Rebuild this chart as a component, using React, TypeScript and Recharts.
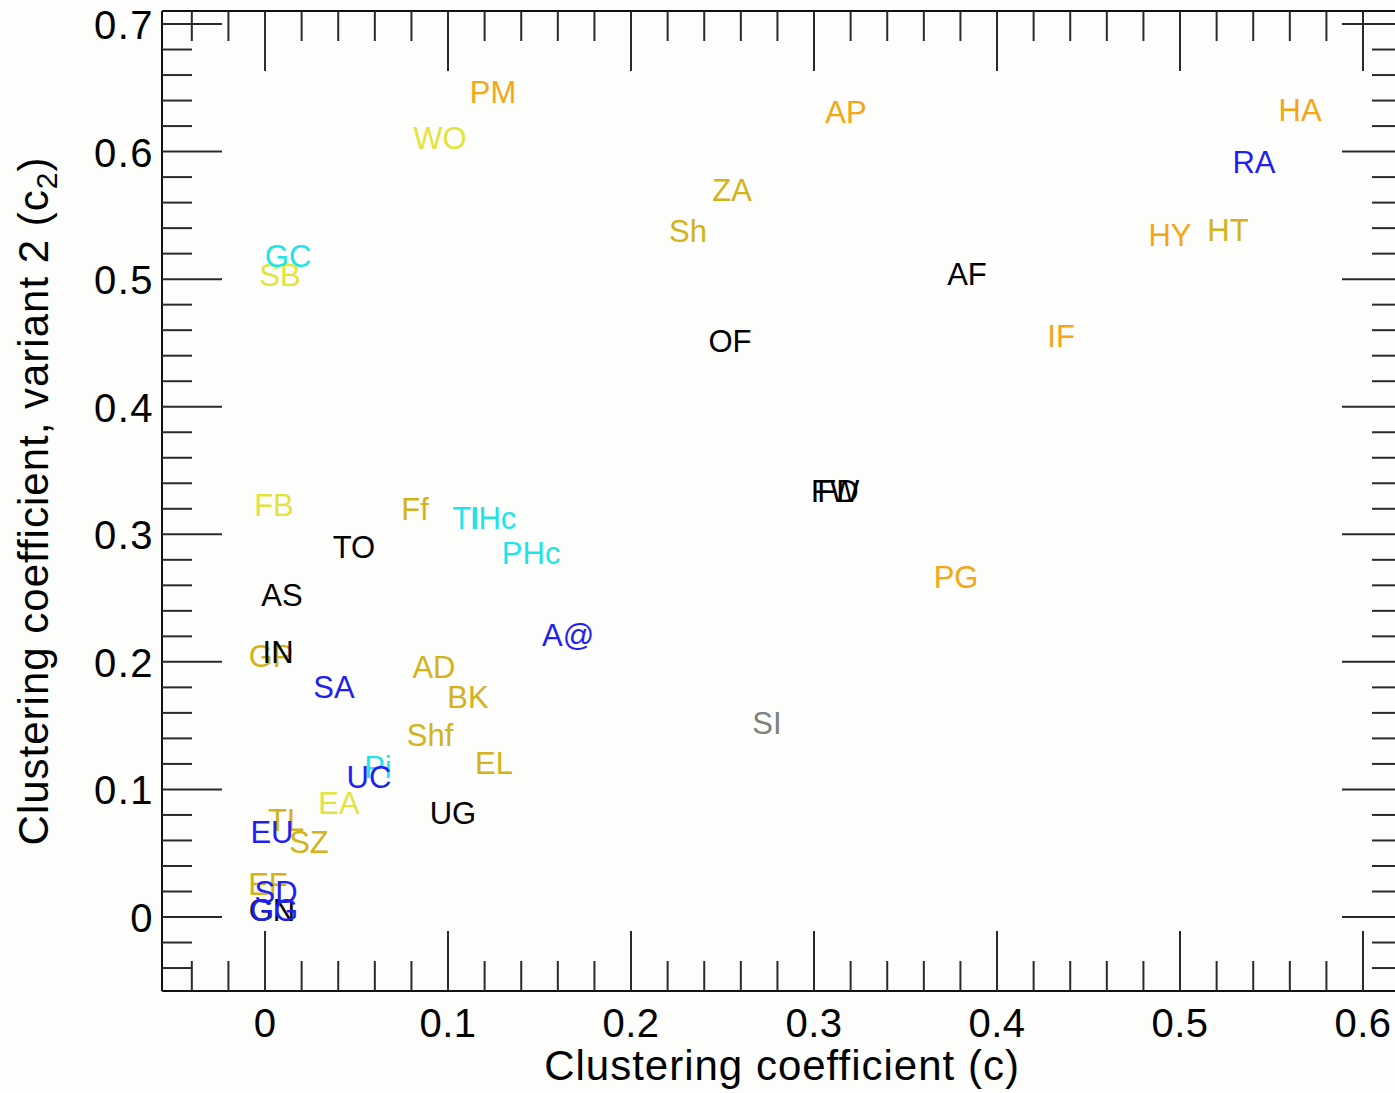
import React from "react";
import { ScatterChart, Scatter, XAxis, YAxis, Label } from "recharts";

// network labels, clustering coefficient c and variant 2 (c2), colour group
const labels = [
  "PM", "AP", "HA", "HY", "IF", "PG",
  "ZA", "Sh", "HT", "Ff", "AD", "BK", "Shf", "EL", "TL", "SZ", "EF", "GP",
  "WO", "SB", "FB", "EA",
  "GC", "TI", "IHc", "PHc", "Pi",
  "AF", "OF", "FW", "FD", "TO", "AS", "IN", "UG", "GN",
  "SI",
  "RA", "A@", "SA", "UC", "EU", "SD", "GG",
];
const cValues = [
  0.1246, 0.3175, 0.5656, 0.4945, 0.435, 0.3776,
  0.2552, 0.2311, 0.5262, 0.082, 0.0923, 0.1109, 0.0902, 0.1251, 0.0115, 0.024, 0.0016, 0.0033,
  0.0956, 0.0082, 0.0049, 0.0404,
  0.0126, 0.1098, 0.1246, 0.1454, 0.0617,
  0.3836, 0.2541, 0.3115, 0.3131, 0.0486, 0.0093, 0.0071, 0.1027, 0.0038,
  0.2743,
  0.5404, 0.1656, 0.0377, 0.0568, 0.0038, 0.006, 0.0049,
];
const c2Values = [
  0.6466, 0.6309, 0.6324, 0.5345, 0.4553, 0.2665,
  0.5697, 0.5376, 0.5384, 0.3197, 0.1959, 0.1724, 0.1426, 0.1207, 0.076, 0.0588, 0.0259, 0.2045,
  0.6105, 0.5031, 0.3229, 0.0893,
  0.518, 0.3127, 0.3127, 0.2853, 0.1176,
  0.5039, 0.4514, 0.3339, 0.3339, 0.29, 0.2524, 0.2077, 0.0815, 0.0055,
  0.152,
  0.5917, 0.221, 0.1803, 0.1097, 0.0666, 0.0196, 0.0055,
];
const groups = [
  "orange", "orange", "orange", "orange", "orange", "orange",
  "gold", "gold", "gold", "gold", "gold", "gold", "gold", "gold", "gold", "gold", "gold", "gold",
  "yellow", "yellow", "yellow", "yellow",
  "cyan", "cyan", "cyan", "cyan", "cyan",
  "black", "black", "black", "black", "black", "black", "black", "black", "black",
  "gray",
  "blue", "blue", "blue", "blue", "blue", "blue", "blue",
];

const groupColors: Record<string, string> = {
  orange: "#f5a612",
  gold: "#d3b21a",
  yellow: "#e2e43c",
  cyan: "#1ee4e8",
  black: "#000000",
  gray: "#808080",
  blue: "#1f1ff2",
};

const xDomain = [-0.0563, 0.6213];
const yDomain = [-0.058, 0.7102];
const xTicks = Array.from({ length: 34 }, (_, i) => Math.round((-0.04 + i * 0.02) * 100) / 100);
const yTicks = Array.from({ length: 38 }, (_, i) => Math.round((-0.04 + i * 0.02) * 100) / 100);

const points = labels.map((label, i) => ({
  label,
  c: cValues[i],
  c2: c2Values[i],
  group: groups[i],
}));

const FONT = "'Liberation Sans', Arial, Helvetica, sans-serif";
const TICK_COLOR = "#2a2a2a";

const isMajor = (v: number) => Math.abs(Math.round(v * 10) - v * 10) < 1e-6;
const fmt = (v: number) => (Math.abs(v) < 1e-9 ? "0" : v.toFixed(1));

function makeXTick(dir: number, showLabel: boolean) {
  return (props: any) => {
    const { x, y, payload } = props;
    const major = isMajor(payload.value);
    const len = major ? 60 : 30;
    return (
      <g>
        <line x1={x} x2={x} y1={y} y2={y + dir * len} stroke={TICK_COLOR} strokeWidth={2} />
        {showLabel && major && payload.value >= 0 && (
          <text x={x} y={y + 46} textAnchor="middle" fontSize={40} letterSpacing={0.5} fontFamily={FONT} fill="#000">
            {fmt(payload.value)}
          </text>
        )}
      </g>
    );
  };
}

function makeYTick(dir: number, showLabel: boolean) {
  return (props: any) => {
    const { x, y, payload } = props;
    const major = isMajor(payload.value);
    const len = major ? 60 : 30;
    return (
      <g>
        <line x1={x} x2={x + dir * len} y1={y} y2={y} stroke={TICK_COLOR} strokeWidth={2} />
        {showLabel && major && payload.value >= 0 && (
          <text x={x - 8} y={y + 15} textAnchor="end" fontSize={40} letterSpacing={1.5} fontFamily={FONT} fill="#000">
            {fmt(payload.value)}
          </text>
        )}
      </g>
    );
  };
}

const NameMark = (props: any) => {
  const { cx, cy, payload } = props;
  return (
    <text
      x={cx}
      y={cy}
      dy={11}
      textAnchor="middle"
      fontSize={31}
      fontFamily={FONT}
      fill={groupColors[payload.group]}
    >
      {payload.label}
    </text>
  );
};

const XTitle = (props: any) => {
  const { viewBox } = props;
  const cx = viewBox.x + viewBox.width / 2;
  return (
    <text x={cx} y={viewBox.y + 89} textAnchor="middle" fontSize={42} letterSpacing={1} fontFamily={FONT} fill="#000">
      Clustering coefficient (c)
    </text>
  );
};

const YTitle = (props: any) => {
  const { viewBox } = props;
  const cy = viewBox.y + viewBox.height / 2;
  const bx = 48;
  return (
    <text
      x={bx}
      y={cy}
      transform={`rotate(-90, ${bx}, ${cy})`}
      textAnchor="middle"
      fontSize={42}
      letterSpacing={1}
      fontFamily={FONT}
      fill="#000"
    >
      Clustering coefficient, variant 2 (c
      <tspan dy={9} fontSize={30}>2</tspan>
      <tspan dy={-9}>)</tspan>
    </text>
  );
};

export default function App() {
  return (
    <div
      style={{
        position: "absolute",
        left: 0,
        top: 0,
        width: 1395,
        height: 1093,
        overflow: "hidden",
        background: "#fdfdfc",
      }}
    >
      <ScatterChart width={1410} height={1093} margin={{ top: 10, right: 7, bottom: 101, left: 161 }}>
        <XAxis
          xAxisId="bottom"
          type="number"
          dataKey="c"
          domain={xDomain}
          allowDataOverflow
          ticks={xTicks}
          interval={0}
          height={1}
          tickSize={0}
          tickMargin={0}
          tickLine={false}
          axisLine={{ stroke: "#111", strokeWidth: 2 }}
          tick={makeXTick(-1, true)}
        >
          <Label content={XTitle} />
        </XAxis>
        <XAxis
          xAxisId="top"
          orientation="top"
          type="number"
          dataKey="c"
          domain={xDomain}
          allowDataOverflow
          ticks={xTicks}
          interval={0}
          height={1}
          tickSize={0}
          tickMargin={0}
          tickLine={false}
          axisLine={{ stroke: "#111", strokeWidth: 2 }}
          tick={makeXTick(1, false)}
        />
        <YAxis
          yAxisId="left"
          type="number"
          dataKey="c2"
          domain={yDomain}
          allowDataOverflow
          ticks={yTicks}
          interval={0}
          width={1}
          tickSize={0}
          tickMargin={0}
          tickLine={false}
          axisLine={{ stroke: "#111", strokeWidth: 2 }}
          tick={makeYTick(1, true)}
        >
          <Label content={YTitle} />
        </YAxis>
        <YAxis
          yAxisId="right"
          orientation="right"
          type="number"
          dataKey="c2"
          domain={yDomain}
          allowDataOverflow
          ticks={yTicks}
          interval={0}
          width={1}
          tickSize={0}
          tickMargin={0}
          tickLine={false}
          axisLine={{ stroke: "#111", strokeWidth: 2 }}
          tick={makeYTick(-1, false)}
        />
        <Scatter
          data={points}
          xAxisId="bottom"
          yAxisId="left"
          shape={NameMark}
          isAnimationActive={false}
        />
      </ScatterChart>
    </div>
  );
}
